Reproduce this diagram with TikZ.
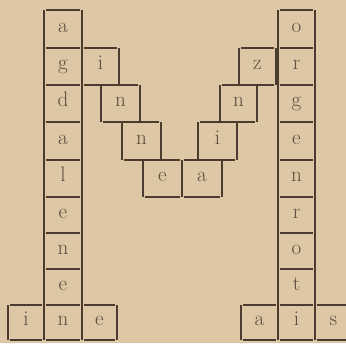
\documentclass[tikz,border=0pt]{standalone}
\usepackage{fontspec}
\definecolor{paper}{RGB}{221,199,164}
\definecolor{ink}{RGB}{74,60,46}
\definecolor{letterink}{RGB}{92,77,62}
\tikzset{
  pzbox/.style={inner sep=0pt, outer sep=0pt, text height=1ex, text depth=0pt,
    text=letterink, font=\fontsize{15}{18}\selectfont},
  vl/.style={draw=ink, line width=0.5mm, line cap=butt},
  hl/.style={draw=ink, line width=0.38mm, line cap=butt, shorten <=0.4mm, shorten >=0.4mm}
}
% \pzcell{name}{x1}{x2}{y1}{y2}{letter}
\newcommand{\pzcell}[6]{%
  \node[pzbox, minimum width={(#3-#2)*0.25mm}, minimum height={(#5-#4)*0.25mm}]
    (#1) at ({(#2+#3)/2},{(#4+#5)/2}) {#6};
  \draw[vl] (#1.north west) -- (#1.south west);
  \draw[vl] (#1.north east) -- (#1.south east);
  \draw[hl] (#1.north west) -- (#1.north east);
  \draw[hl] (#1.south west) -- (#1.south east);
}
\begin{document}
\begin{tikzpicture}[x=0.25mm, y=-0.25mm]
\useasboundingbox[fill=paper] (0,0) rectangle (346,343);
% left column
\pzcell{La}{44}{82}{10}{48}{a}
\pzcell{Lb}{44}{82}{48}{85}{g}
\pzcell{Lc}{44}{82}{85}{122}{d}
\pzcell{Ld}{44}{82}{122}{160}{a}
\pzcell{Le}{44}{82}{160}{197}{l}
\pzcell{Lf}{44}{82}{197}{233}{e}
\pzcell{Lg}{44}{82}{233}{269}{n}
\pzcell{Lh}{44}{82}{269}{305}{e}
% bottom left
\pzcell{BLa}{8}{44}{305}{340}{i}
\pzcell{BLb}{44}{82}{305}{340}{n}
\pzcell{BLc}{82}{117}{305}{340}{e}
% right column
\pzcell{Ra}{278}{315}{10}{48}{o}
\pzcell{Rb}{278}{315}{48}{85}{r}
\pzcell{Rc}{278}{315}{85}{122}{g}
\pzcell{Rd}{278}{315}{122}{160}{e}
\pzcell{Re}{278}{315}{160}{197}{n}
\pzcell{Rf}{278}{315}{197}{233}{r}
\pzcell{Rg}{278}{315}{233}{269}{o}
\pzcell{Rh}{278}{315}{269}{305}{t}
% bottom right
\pzcell{BRa}{241}{278}{305}{340}{a}
\pzcell{BRb}{278}{315}{305}{340}{i}
\pzcell{BRc}{315}{352}{305}{340}{s}
% diagonals
\pzcell{Da}{82}{119}{48}{85}{i}
\pzcell{Db}{101}{140}{85}{122}{n}
\pzcell{Dc}{122}{161}{122}{160}{n}
\pzcell{Dd}{143}{182}{160}{197}{e}
\pzcell{De}{182}{222}{160}{197}{a}
\pzcell{Df}{198}{237}{122}{160}{i}
\pzcell{Dg}{220}{257}{85}{122}{n}
\pzcell{Dh}{239}{276}{48}{85}{z}
\end{tikzpicture}
\end{document}
